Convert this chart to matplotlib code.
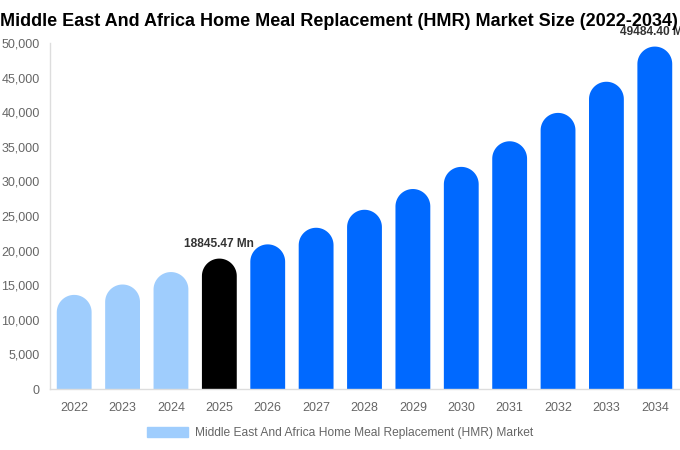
import matplotlib
matplotlib.use("Agg")
from matplotlib import pyplot as plt
from matplotlib import font_manager
from matplotlib.patches import PathPatch, Patch
from matplotlib.path import Path
import numpy as np

# Chart data
years = ["2022", "2023", "2024", "2025", "2026", "2027", "2028",
         "2029", "2030", "2031", "2032", "2033", "2034"]
values = [13600, 15100, 16900, 18845.47, 20900, 23300, 25900,
          28900, 32100, 35800, 39900, 44400, 49484.40]
bar_colors = ["#9fcdfd"] * 3 + ["#000000"] + ["#0069ff"] * 9
labelled = {3: "18845.47 Mn", 12: "49484.40 Mn"}
series_name = "Middle East And Africa Home Meal Replacement (HMR) Market"
title = "Middle East And Africa Home Meal Replacement (HMR) Market Size (2022-2034)"

plt.rcParams["font.family"] = ["Liberation Sans", "DejaVu Sans"]

# narrow title font if there is one, else the normal one sized to the width
names = {f.name for f in font_manager.fontManager.ttflist}
if "Liberation Sans Narrow" in names:
    title_family, title_size = ["Liberation Sans Narrow", "Liberation Sans"], 15.7
else:
    title_family, title_size = ["Liberation Sans", "DejaVu Sans"], 13.0

W, H = 680, 450
fig = plt.figure(figsize=(W / 100, H / 100), dpi=100)
ax_l, ax_r, ax_t, ax_b = 50, 679, 43, 389
ax = fig.add_axes([ax_l / W, (H - ax_b) / H, (ax_r - ax_l) / W, (ax_b - ax_t) / H])

ymax = 50000
ax.set_xlim(-0.5, len(years) - 0.5)
ax.set_ylim(0, ymax)

bw = 0.72
# pixel -> data scale so the cap is a true half circle
px_per_x = (ax_r - ax_l) / len(years)
px_per_y = (ax_b - ax_t) / ymax
r_y = (bw * px_per_x / 2) / px_per_y

ang = np.linspace(np.pi, 0, 40)
for i, (v, c) in enumerate(zip(values, bar_colors)):
    top = v - r_y
    xs = np.concatenate([[i - bw / 2], i + bw / 2 * np.cos(ang), [i + bw / 2, i - bw / 2]])
    ys = np.concatenate([[0], top + r_y * np.sin(ang), [0, 0]])
    ax.add_patch(PathPatch(Path(np.column_stack([xs, ys]), closed=True),
                           facecolor=c, edgecolor="none"))

for i, txt in labelled.items():
    ax.text(i, values[i] + 1300, txt, ha="center", va="bottom",
            fontsize=8.6, fontweight="bold", color="#333333", clip_on=False)

ax.set_xticks(range(len(years)))
ax.set_xticklabels(years)
ax.set_yticks(range(0, 50001, 5000))
ax.set_yticklabels([f"{t:,}" for t in range(0, 50001, 5000)])
ax.tick_params(axis="both", length=0, labelsize=9, labelcolor="#666666")
ax.tick_params(axis="x", pad=9.5)
ax.tick_params(axis="y", pad=7.5)
for s in ["top", "right"]:
    ax.spines[s].set_visible(False)
for s in ["left", "bottom"]:
    ax.spines[s].set_color("#dddddd")
    ax.spines[s].set_linewidth(1)

fig.text(0.0, 1 - 21 / H, title, ha="left", va="center", fontsize=title_size,
         fontweight="bold", family=title_family, color="#000000")

fig.legend(handles=[Patch(color="#9fcdfd", label=series_name)],
           loc="center", bbox_to_anchor=(340 / W, 1 - 433 / H), frameon=False,
           fontsize=8.65, handlelength=3.4, handleheight=0.95, handletextpad=0.6,
           labelcolor="#666666")

fig.savefig("out.png", dpi=100)
